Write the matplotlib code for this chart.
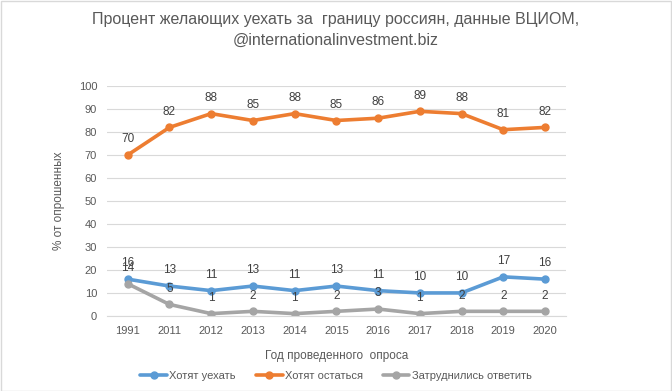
import matplotlib
matplotlib.use('Agg')
import matplotlib.pyplot as plt

plt.rcParams['font.family'] = ['Liberation Sans', 'DejaVu Sans']

years = ['1991', '2011', '2012', '2013', '2014', '2015', '2016', '2017', '2018', '2019', '2020']
leave = [16, 13, 11, 13, 11, 13, 11, 10, 10, 17, 16]
stay = [70, 82, 88, 85, 88, 85, 86, 89, 88, 81, 82]
unsure = [14, 5, 1, 2, 1, 2, 3, 1, 2, 2, 2]

txt = '#595959'
fig = plt.figure(figsize=(6.72, 3.91), dpi=100)
ax = fig.add_axes([0.159, 0.192, 0.683, 0.588])

x = range(len(years))
series = [
    (leave, '#5b9bd5', 'Хотят уехать'),
    (stay, '#ed7d31', 'Хотят остаться'),
    (unsure, '#a5a5a5', 'Затруднились ответить'),
]
for vals, col, lab in series:
    ax.plot(x, vals, color=col, lw=2.6, marker='o', ms=5, label=lab, solid_capstyle='round')
    for i, v in zip(x, vals):
        ax.annotate(str(v), (i, v), xytext=(0, 7), textcoords='offset points',
                    ha='center', va='bottom', fontsize=8.5, color='#404040')

ax.set_xlim(-0.5, len(years) - 0.5)
ax.set_ylim(0, 100)
ax.set_yticks(range(0, 101, 10))
ax.set_xticks(list(x))
ax.set_xticklabels(years)
ax.grid(axis='y', color='#d9d9d9', lw=0.8)
ax.set_axisbelow(True)
for s in ['top', 'right', 'left']:
    ax.spines[s].set_visible(False)
ax.spines['bottom'].set_color('#d9d9d9')
ax.tick_params(length=0, labelsize=8, colors=txt, pad=7)
ax.set_xlabel('Год проведенного  опроса', fontsize=8.5, color=txt, labelpad=10)
ax.set_ylabel('% от опрошенных', fontsize=8.5, color=txt, labelpad=10)

fig.suptitle('Процент желающих уехать за  границу россиян, данные ВЦИОМ,\n@internationalinvestment.biz',
             y=0.97, fontsize=11.5, color=txt, linespacing=1.5)
fig.legend(loc='lower center', bbox_to_anchor=(0.5, 0.0), ncol=3, frameon=False,
           fontsize=8, labelcolor=txt, handlelength=2.4, columnspacing=1.8, handletextpad=0.2)
fig.patches.append(plt.Rectangle((0.001, 0.001), 0.997, 0.997, transform=fig.transFigure,
                                 fill=False, edgecolor='#d9d9d9', lw=1))
fig.savefig('out.png', dpi=100)
